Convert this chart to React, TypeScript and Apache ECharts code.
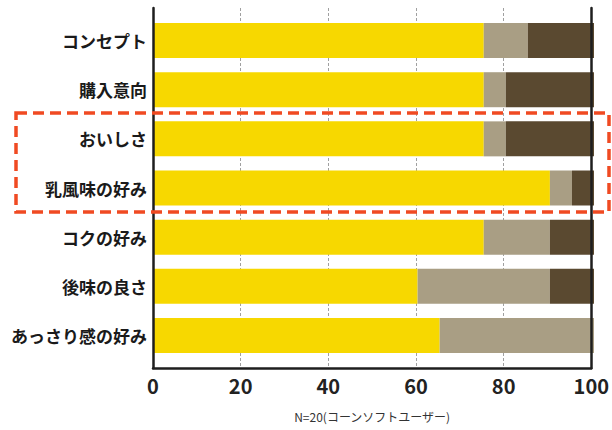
import React, { useEffect, useRef } from "react";
import * as echarts from "echarts";

const categories = ["コンセプト", "購入意向", "おいしさ", "乳風味の好み", "コクの好み", "後味の良さ", "あっさり感の好み"];
const yellowValues = [75, 75, 75, 90, 75, 60, 65];
const tanValues = [10, 5, 5, 5, 15, 30, 35];
const darkValues = [15, 20, 20, 5, 10, 10, 0];
const xTicks = { min: 0, max: 100, interval: 20 };
const noteText = "N=20(コーンソフトユーザー)";

const FONT = "'Noto Sans CJK JP', 'Noto Sans', sans-serif";

export default function App() {
  const ref = useRef<HTMLDivElement>(null);
  useEffect(() => {
    if (!ref.current) return;
    const chart = echarts.init(ref.current, null, { renderer: "svg" });
    const mkBar = (name: string, data: number[], color: string) => ({
      name,
      type: "bar",
      stack: "total",
      xAxisIndex: 1,
      yAxisIndex: 2,
      data,
      barWidth: 35,
      itemStyle: { color },
      emphasis: { disabled: true },
    });
    chart.setOption({
      animation: false,
      backgroundColor: "#ffffff",
      grid: [
        { left: 153, right: 18, top: 8, bottom: 62 },
        { left: 153, right: 18, top: 16, bottom: 70 },
      ],
      xAxis: [
        {
          gridIndex: 0,
          type: "value",
          min: xTicks.min,
          max: xTicks.max,
          interval: xTicks.interval,
          axisLine: { show: true, lineStyle: { color: "#1e1e1e", width: 2.5 } },
          axisTick: { show: false },
          axisLabel: { color: "#222", fontSize: 20, fontWeight: "bold", fontFamily: FONT, margin: 7 },
          splitLine: { show: true, lineStyle: { color: "#a0a0a0", width: 1, type: [3, 2] } },
          name: noteText,
          nameLocation: "middle",
          nameGap: 42,
          nameTextStyle: { color: "#333", fontSize: 12, fontFamily: FONT },
          z: 1,
        },
        {
          gridIndex: 1,
          type: "value",
          min: xTicks.min,
          max: xTicks.max,
          show: false,
        },
      ],
      yAxis: [
        {
          gridIndex: 0,
          type: "value",
          position: "left",
          axisLine: { show: true, lineStyle: { color: "#1e1e1e", width: 2.5 } },
          axisTick: { show: false },
          axisLabel: { show: false },
          splitLine: { show: false },
          z: 10,
        },
        {
          gridIndex: 0,
          type: "value",
          position: "right",
          axisLine: { show: true, onZero: false, lineStyle: { color: "#1e1e1e", width: 2.5 } },
          axisTick: { show: false },
          axisLabel: { show: false },
          splitLine: { show: false },
          z: 10,
        },
        {
          gridIndex: 1,
          type: "category",
          inverse: true,
          data: categories,
          axisLine: { show: false },
          axisTick: { show: false },
          axisLabel: { color: "#1a1a1a", fontSize: 17, fontWeight: "bold", fontFamily: FONT, margin: 6 },
          splitLine: { show: false },
        },
      ],
      series: [
        mkBar("yellow", yellowValues, "#f7d800"),
        mkBar("tan", tanValues, "#a99e84"),
        mkBar("dark", darkValues, "#5a4930"),
      ],
      graphic: [
        {
          type: "rect",
          shape: { x: 16, y: 113, width: 593, height: 99 },
          style: { fill: "none", stroke: "#f04a22", lineWidth: 3.5, lineDash: [11, 6] },
          z: 100,
        },
      ],
    });
    return () => chart.dispose();
  }, []);
  return (
    <div
      ref={ref}
      style={{ position: "fixed", left: 0, top: 0, width: 612, height: 430 }}
    />
  );
}
